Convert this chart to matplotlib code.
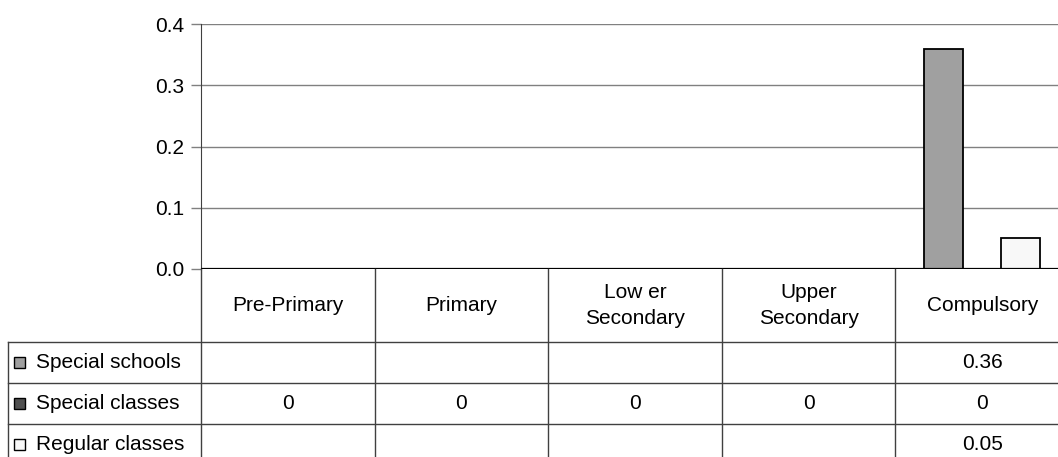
import matplotlib
matplotlib.use("Agg")
import matplotlib.pyplot as plt
import numpy as np
from matplotlib.patches import Rectangle

# --- data ---
categories = ["Pre-Primary", "Primary", "Low er\nSecondary", "Upper\nSecondary", "Compulsory"]
series_names = ["Special schools", "Special classes", "Regular classes"]
special_schools = [None, None, None, None, 0.36]
special_classes = [0, 0, 0, 0, 0]
regular_classes = [None, None, None, None, 0.05]
yticks = [0.0, 0.1, 0.2, 0.3, 0.4]

colors = ["#a0a0a0", "#505050", "#f8f8f8"]
series = [special_schools, special_classes, regular_classes]

plt.rcParams['font.family'] = ['Liberation Sans', 'DejaVu Sans']
FS = 15

W, H = 1058, 457
fig = plt.figure(figsize=(W / 100, H / 100), dpi=100)


def px_rect(x0, y0, x1, y1):
    # pixel box (top-left origin) -> figure fraction
    return [x0 / W, 1 - y1 / H, (x1 - x0) / W, (y1 - y0) / H]


x_left, x_right = 201, 1069
ax = fig.add_axes(px_rect(x_left, 24, x_right, 269))
x = np.arange(len(categories))
bw = 0.222
for k, (vals, col) in enumerate(zip(series, colors)):
    for i, v in enumerate(vals):
        if v is None:
            continue
        ax.bar(x[i] + (k - 1) * bw, v, width=bw, color=col,
               edgecolor="black", linewidth=1.3, zorder=3)

ax.set_xlim(-0.5, len(categories) - 0.5)
ax.set_ylim(0, 0.4)
ax.set_yticks(yticks)
ax.set_yticklabels([f"{t:.1f}" for t in yticks], fontsize=FS)
ax.tick_params(axis="y", length=7, color="#808080", width=1, pad=5)
ax.set_xticks([])
ax.yaxis.grid(True, color="#808080", linewidth=1)
ax.set_axisbelow(True)
for s in ["top", "right", "bottom"]:
    ax.spines[s].set_visible(False)
ax.spines["left"].set_color("#404040")
ax.axhline(0, color="black", linewidth=1.6, zorder=4)

# --- data table under the plot, in category units ---
unit = (x_right - x_left) / len(categories)
tax = fig.add_axes(px_rect(x_left, 269, x_right, 465))
tax.set_xlim(-0.5, len(categories) - 0.5)
tax.set_ylim(196, 0)
tax.axis("off")

head_h = 73
row_h = 41
lab_x0 = -0.5 - (x_left - 8) / unit
line_kw = dict(color="#404040", linewidth=1, clip_on=False)

# vertical lines
for xv in np.arange(-0.5, len(categories) + 0.5, 1.0):
    tax.plot([xv, xv], [0, 196], **line_kw)
tax.plot([lab_x0, lab_x0], [head_h, 196], **line_kw)
# horizontal lines
for r in range(len(series_names)):
    yy = head_h + r * row_h
    tax.plot([lab_x0, len(categories) - 0.5], [yy, yy], **line_kw)

# headers
for i, c in enumerate(categories):
    tax.text(i, head_h / 2, c, ha="center", va="center", fontsize=FS,
             linespacing=1.45)

# rows
for r, (name, vals, col) in enumerate(zip(series_names, series, colors)):
    yc = head_h + r * row_h + row_h / 2
    ks = 11 / unit
    tax.add_patch(Rectangle((lab_x0 + 6 / unit, yc - 5.5), ks, 11,
                            facecolor=col, edgecolor="black", linewidth=1,
                            clip_on=False))
    tax.text(lab_x0 + 28 / unit, yc, name, ha="left", va="center",
             fontsize=FS, clip_on=False)
    for i, v in enumerate(vals):
        if v is None:
            continue
        tax.text(i, yc, f"{v:g}", ha="center", va="center", fontsize=FS)

fig.savefig("out.png", dpi=100)
